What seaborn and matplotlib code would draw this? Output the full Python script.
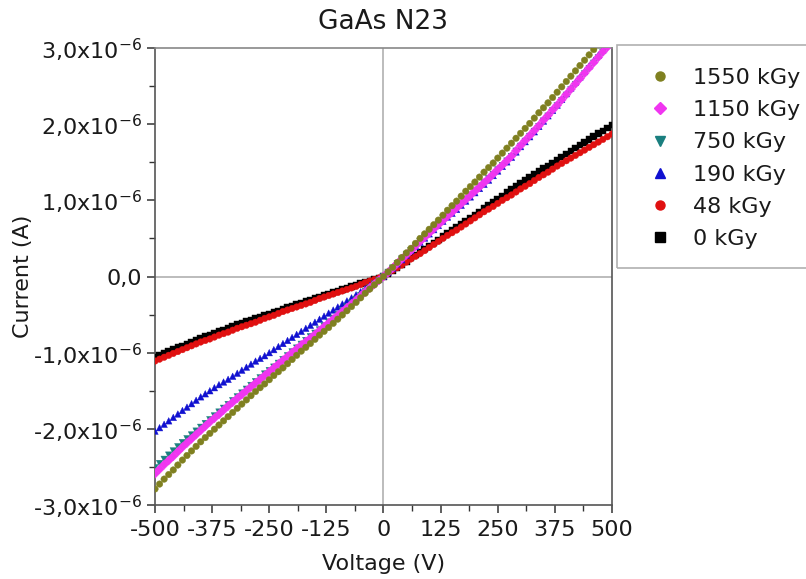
import numpy as np
import pandas as pd
import matplotlib
matplotlib.use("Agg")
import matplotlib.pyplot as plt
import matplotlib.ticker as mticker
from matplotlib.lines import Line2D
from matplotlib.patches import Rectangle
import seaborn as sns

voltage = [-500, -490, -480, -470, -460, -450, -440, -430, -420, -410,
           -400, -390, -380, -370, -360, -350, -340, -330, -320, -310,
           -300, -290, -280, -270, -260, -250, -240, -230, -220, -210,
           -200, -190, -180, -170, -160, -150, -140, -130, -120, -110,
           -100, -90, -80, -70, -60, -50, -40, -30, -20, -10,
           0,
           10, 20, 30, 40, 50, 60, 70, 80, 90, 100,
           110, 120, 130, 140, 150, 160, 170, 180, 190, 200,
           210, 220, 230, 240, 250, 260, 270, 280, 290, 300,
           310, 320, 330, 340, 350, 360, 370, 380, 390, 400,
           410, 420, 430, 440, 450, 460, 470, 480, 490, 500]

# currents in units of 1e-6 A
i_0kGy = [-1.060, -1.035, -1.010, -0.985, -0.960, -0.935, -0.910, -0.885, -0.860, -0.835,
          -0.810, -0.790, -0.770, -0.745, -0.720, -0.700, -0.680, -0.655, -0.630, -0.610,
          -0.590, -0.570, -0.550, -0.530, -0.510, -0.490, -0.470, -0.450, -0.430, -0.410,
          -0.390, -0.370, -0.350, -0.330, -0.310, -0.290, -0.270, -0.250, -0.230, -0.210,
          -0.190, -0.170, -0.150, -0.130, -0.110, -0.095, -0.080, -0.060, -0.040, -0.020,
          0.000,
          0.040, 0.080, 0.120, 0.160, 0.200, 0.240, 0.280, 0.320, 0.360, 0.400,
          0.440, 0.480, 0.525, 0.570, 0.610, 0.650, 0.690, 0.730, 0.770, 0.810,
          0.850, 0.890, 0.930, 0.970, 1.015, 1.060, 1.100, 1.140, 1.180, 1.220,
          1.260, 1.300, 1.340, 1.380, 1.415, 1.450, 1.490, 1.530, 1.570, 1.610,
          1.650, 1.690, 1.725, 1.760, 1.800, 1.840, 1.875, 1.910, 1.950, 1.990]
i_48kGy = [-1.110, -1.085, -1.060, -1.035, -1.010, -0.985, -0.960, -0.935, -0.910, -0.885,
           -0.860, -0.840, -0.820, -0.795, -0.770, -0.750, -0.730, -0.705, -0.680, -0.660,
           -0.640, -0.620, -0.600, -0.575, -0.550, -0.530, -0.510, -0.485, -0.460, -0.440,
           -0.420, -0.400, -0.380, -0.360, -0.340, -0.315, -0.290, -0.270, -0.250, -0.230,
           -0.210, -0.190, -0.170, -0.150, -0.130, -0.105, -0.080, -0.060, -0.040, -0.020,
           0.000,
           0.040, 0.080, 0.115, 0.150, 0.190, 0.230, 0.265, 0.300, 0.340, 0.380,
           0.420, 0.460, 0.500, 0.540, 0.575, 0.610, 0.650, 0.690, 0.730, 0.770,
           0.810, 0.850, 0.885, 0.920, 0.960, 1.000, 1.035, 1.070, 1.110, 1.150,
           1.185, 1.220, 1.260, 1.300, 1.335, 1.370, 1.410, 1.450, 1.485, 1.520,
           1.555, 1.590, 1.625, 1.660, 1.695, 1.730, 1.765, 1.800, 1.835, 1.870]
i_190kGy = [-2.030, -1.985, -1.940, -1.895, -1.850, -1.805, -1.760, -1.715, -1.670, -1.625,
            -1.580, -1.540, -1.500, -1.460, -1.420, -1.385, -1.350, -1.310, -1.270, -1.230,
            -1.190, -1.150, -1.110, -1.075, -1.040, -1.000, -0.960, -0.920, -0.880, -0.840,
            -0.800, -0.760, -0.720, -0.680, -0.640, -0.600, -0.560, -0.520, -0.480, -0.440,
            -0.400, -0.360, -0.320, -0.280, -0.240, -0.200, -0.160, -0.120, -0.080, -0.040,
            0.000,
            0.055, 0.110, 0.165, 0.220, 0.280, 0.340, 0.395, 0.450, 0.505, 0.560,
            0.615, 0.670, 0.725, 0.780, 0.830, 0.880, 0.935, 0.990, 1.045, 1.100,
            1.155, 1.210, 1.265, 1.325, 1.385, 1.445, 1.505, 1.565, 1.635, 1.705,
            1.770, 1.835, 1.900, 1.970, 2.040, 2.110, 2.180, 2.250, 2.325, 2.400,
            2.475, 2.550, 2.620, 2.690, 2.765, 2.835, 2.905, 2.975, 3.045, 3.115]
i_750kGy = [-2.510, -2.455, -2.400, -2.345, -2.290, -2.235, -2.180, -2.130, -2.080, -2.030,
            -1.980, -1.930, -1.880, -1.830, -1.780, -1.730, -1.680, -1.630, -1.580, -1.530,
            -1.480, -1.430, -1.380, -1.330, -1.280, -1.235, -1.190, -1.140, -1.090, -1.040,
            -0.990, -0.940, -0.890, -0.840, -0.790, -0.745, -0.700, -0.650, -0.600, -0.550,
            -0.500, -0.450, -0.400, -0.350, -0.300, -0.250, -0.200, -0.150, -0.100, -0.050,
            0.000,
            0.055, 0.110, 0.170, 0.230, 0.285, 0.340, 0.400, 0.460, 0.515, 0.570,
            0.625, 0.680, 0.735, 0.790, 0.845, 0.900, 0.955, 1.010, 1.065, 1.120,
            1.175, 1.230, 1.285, 1.340, 1.400, 1.455, 1.515, 1.575, 1.645, 1.710,
            1.775, 1.840, 1.905, 1.970, 2.040, 2.105, 2.175, 2.240, 2.310, 2.380,
            2.450, 2.520, 2.590, 2.660, 2.730, 2.800, 2.870, 2.940, 3.005, 3.070]
i_1150kGy = [-2.590, -2.530, -2.470, -2.415, -2.360, -2.300, -2.240, -2.185, -2.130, -2.075,
             -2.020, -1.965, -1.910, -1.860, -1.810, -1.755, -1.700, -1.650, -1.600, -1.550,
             -1.500, -1.450, -1.400, -1.350, -1.300, -1.250, -1.200, -1.150, -1.100, -1.050,
             -1.000, -0.950, -0.900, -0.855, -0.810, -0.760, -0.710, -0.660, -0.610, -0.560,
             -0.510, -0.460, -0.410, -0.360, -0.310, -0.255, -0.200, -0.150, -0.100, -0.050,
             0.000,
             0.055, 0.110, 0.170, 0.230, 0.285, 0.340, 0.400, 0.460, 0.515, 0.570,
             0.625, 0.680, 0.735, 0.790, 0.845, 0.900, 0.955, 1.010, 1.065, 1.120,
             1.175, 1.230, 1.285, 1.345, 1.405, 1.460, 1.520, 1.580, 1.650, 1.720,
             1.785, 1.850, 1.915, 1.980, 2.050, 2.115, 2.185, 2.250, 2.320, 2.390,
             2.460, 2.530, 2.600, 2.670, 2.740, 2.810, 2.880, 2.950, 3.015, 3.080]
i_1550kGy = [-2.790, -2.725, -2.660, -2.600, -2.540, -2.475, -2.410, -2.350, -2.290, -2.230,
             -2.170, -2.115, -2.060, -2.005, -1.950, -1.895, -1.840, -1.785, -1.730, -1.675,
             -1.620, -1.565, -1.510, -1.460, -1.410, -1.355, -1.300, -1.250, -1.200, -1.145,
             -1.090, -1.035, -0.980, -0.930, -0.880, -0.825, -0.770, -0.720, -0.670, -0.615,
             -0.560, -0.505, -0.450, -0.395, -0.340, -0.280, -0.220, -0.165, -0.110, -0.055,
             0.000,
             0.060, 0.120, 0.185, 0.250, 0.310, 0.370, 0.435, 0.500, 0.560, 0.620,
             0.680, 0.740, 0.805, 0.870, 0.930, 0.990, 1.055, 1.120, 1.180, 1.240,
             1.305, 1.370, 1.430, 1.490, 1.555, 1.620, 1.685, 1.750, 1.815, 1.880,
             1.945, 2.010, 2.080, 2.150, 2.215, 2.280, 2.350, 2.420, 2.490, 2.560,
             2.630, 2.700, 2.770, 2.840, 2.910, 2.980, 3.050, 3.120, 3.190, 3.260]

doses = ["0 kGy", "48 kGy", "190 kGy", "750 kGy", "1150 kGy", "1550 kGy"]
series = [i_0kGy, i_48kGy, i_190kGy, i_750kGy, i_1150kGy, i_1550kGy]
colors = ["#000000", "#e01010", "#1010d0", "#1a7f7f", "#f035f0", "#7f8020"]
markers = ["s", "o", "^", "v", "D", "o"]

rows = []
for d, s in zip(doses, series):
    for v, c in zip(voltage, s):
        rows.append({"Voltage": v, "Current": c * 1e-6, "Dose": d})
df = pd.DataFrame(rows)

sns.set_theme(style="white")
plt.rcParams["font.family"] = ["DejaVu Sans"]
plt.rcParams["axes.unicode_minus"] = False
plt.rcParams["mathtext.default"] = "regular"

fig = plt.figure(figsize=(8.06, 5.79), dpi=100)
ax = fig.add_axes([0.1923, 0.1278, 0.5670, 0.7893])

ax.axhline(0, color="#b0b0b0", lw=1.2, zorder=0)
ax.axvline(0, color="#b0b0b0", lw=1.2, zorder=0)

pal = dict(zip(doses, colors))
mk = dict(zip(doses, markers))
sns.scatterplot(data=df, x="Voltage", y="Current", hue="Dose", style="Dose",
                hue_order=doses, style_order=doses, palette=pal, markers=mk,
                s=22, linewidth=0.3, legend=False, ax=ax, zorder=3)
for coll in ax.collections:
    coll.set_edgecolor(coll.get_facecolor())

ax.set_xlim(-500, 500)
ax.set_ylim(-3e-6, 3e-6)
ax.xaxis.set_major_locator(mticker.MultipleLocator(125))
ax.xaxis.set_minor_locator(mticker.MultipleLocator(62.5))
ax.yaxis.set_major_locator(mticker.MultipleLocator(1e-6))
ax.yaxis.set_minor_locator(mticker.MultipleLocator(0.5e-6))

def yfmt(v, pos):
    m = round(v * 1e6, 1)
    if abs(m) < 1e-9:
        return "0,0"
    return ("%.1f" % m).replace(".", ",") + "x10$^{-6}$"

ax.yaxis.set_major_formatter(mticker.FuncFormatter(yfmt))
ax.xaxis.set_major_formatter(mticker.FuncFormatter(lambda v, p: "%d" % v))

tc = "#1a1a1a"
ax.tick_params(axis="both", which="major", direction="out", length=6, width=1.1,
               labelsize=16, colors="#333333", labelcolor=tc, pad=3)
ax.tick_params(axis="x", which="major", pad=5)
ax.tick_params(axis="both", which="minor", direction="out", length=4, width=1.0,
               colors="#333333")
ax.tick_params(left=True, bottom=True, which="both")
for sp in ax.spines.values():
    sp.set_color("#555555")
    sp.set_linewidth(1.2)
ax.spines["top"].set_color("#888888")

ax.set_xlabel("Voltage (V)", fontsize=16, color=tc, labelpad=10)
ax.set_ylabel("Current (A)", fontsize=16, color=tc, labelpad=0)
ax.set_title("GaAs N23", fontsize=19, color=tc, pad=14)

# legend box (extends past the figure's right edge)
W, H = 806, 579
fig.patches.append(Rectangle((617 / W, 1 - 268 / H), 200 / W, 223 / H,
                             transform=fig.transFigure, fill=False,
                             edgecolor="#b0b0b0", lw=1.2))
handles = [Line2D([], [], ls="none", marker=m, color=c, markersize=6.5)
           for m, c in zip(markers, colors)][::-1]
fig.legend(handles, doses[::-1], loc="upper left",
           bbox_to_anchor=(649 / W, 1 - 68 / H), frameon=False, fontsize=16,
           handlelength=1.0, handletextpad=1.0, labelspacing=0.55,
           labelcolor=tc, borderaxespad=0, borderpad=0)

fig.savefig("out.png", dpi=100)
